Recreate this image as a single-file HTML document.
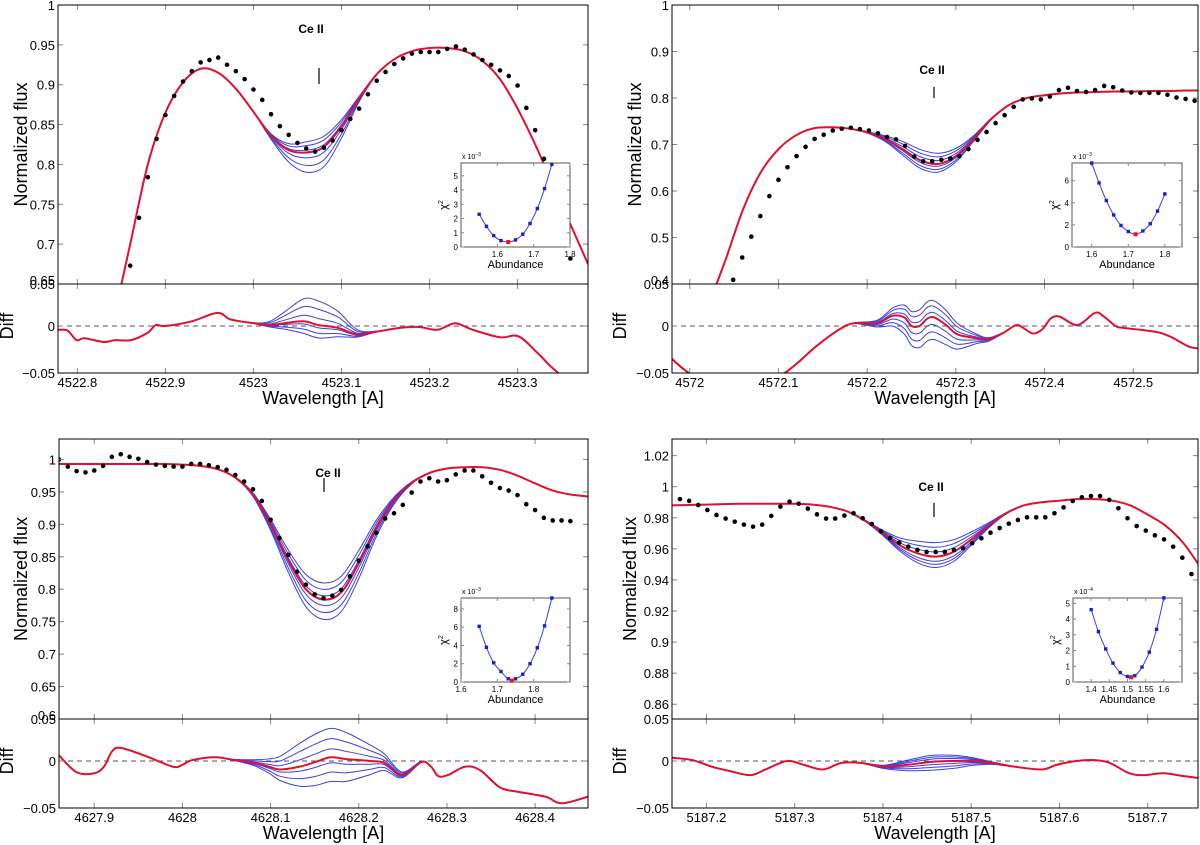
<!DOCTYPE html>
<html><head><meta charset="utf-8"><title>Ce II line fits</title>
<style>
html,body{margin:0;padding:0;background:#fff;}
svg{display:block;font-family:"Liberation Sans",Arial,sans-serif;}
</style></head>
<body>
<svg id="fig" width="1200" height="845" viewBox="0 0 1200 845"></svg>
<script>
// ---------- shared ----------
const blueOffsetsTL=[0.014,0.009,0.003,-0.007,-0.017,-0.026];
const blueOffsetsTR=[0.024,0.016,0.008,-0.005,-0.012,-0.018];
const blueOffsetsBL=[0.026,0.016,0.006,-0.009,-0.020,-0.031];
const blueOffsetsBR=[0.009,0.006,0.003,-0.003,-0.005,-0.007];
const lineProfile=[0,0.03,0.1,0.25,0.5,0.78,0.95,1,0.95,0.78,0.5,0.25,0.1,0.03,0];

// ---------- top-left 4523 ----------
const tlModel=[0.600,0.700,0.800,0.865,0.903,0.920,0.915,0.895,0.866,0.836,0.818,0.815,0.822,0.848,0.883,0.913,0.932,0.942,0.946,0.946,0.942,0.930,0.907,0.870,0.825,0.775,0.725,0.675];
const tlDots=[0.673,0.733,0.784,0.832,0.862,0.886,0.904,0.917,0.928,0.931,0.934,0.925,0.917,0.907,0.894,0.881,0.863,0.848,0.837,0.827,0.820,0.816,0.821,0.830,0.843,0.857,0.870,0.888,0.905,0.916,0.926,0.933,0.939,0.941,0.941,0.941,0.945,0.948,0.944,0.938,0.931,0.925,0.918,0.911,0.899,0.871,0.843,0.807,0.770,0.725,0.682];
const tlDiffWl=[4522.778,4522.789,4522.799,4522.808,4522.830,4522.843,4522.861,4522.880,4522.889,4522.900,4522.930,4522.959,4522.974,4523.000,4523.018,4523.035,4523.057,4523.074,4523.096,4523.118,4523.140,4523.166,4523.188,4523.209,4523.229,4523.249,4523.280,4523.301,4523.323,4523.345,4523.380];
const tlDiff=[-0.004,-0.005,-0.015,-0.013,-0.017,-0.015,-0.015,-0.007,0.001,0.000,0.005,0.014,0.007,0.003,0.001,0.003,0.005,0.001,-0.002,-0.009,-0.006,-0.002,-0.001,-0.004,0.003,-0.004,-0.012,-0.011,-0.029,-0.049,-0.070];
const tlXTicks=[4522.8,4522.9,4523,4523.1,4523.2,4523.3];
const tlXLabels=["4522.8","4522.9","4523","4523.1","4523.2","4523.3"];
const tlYTicks=[0.7,0.75,0.8,0.85,0.9,0.95,1];
const tlYLabels=["0.7","0.75","0.8","0.85","0.9","0.95","1"];
const tlChiX=[1.55,1.57,1.59,1.61,1.63,1.65,1.67,1.69,1.71,1.73,1.75];
const tlChiY=[2.3,1.45,0.8,0.45,0.35,0.5,0.9,1.65,2.7,4.1,5.8];
const tlChiBest=[1.63,0.35];
const tlInXTicks=[1.6,1.7,1.8];
const tlInYTicks=[0,1,2,3,4,5];

// ---------- top-right 4572 ----------
const trModel=[0.350,0.450,0.560,0.640,0.690,0.720,0.735,0.737,0.734,0.726,0.712,0.690,0.666,0.658,0.675,0.712,0.755,0.785,0.800,0.806,0.810,0.812,0.813,0.814,0.814,0.815,0.815,0.816,0.816];
const trDots=[0.409,0.457,0.502,0.546,0.589,0.624,0.651,0.675,0.695,0.712,0.721,0.730,0.734,0.736,0.733,0.730,0.724,0.716,0.711,0.697,0.674,0.664,0.664,0.667,0.670,0.675,0.690,0.710,0.727,0.746,0.763,0.781,0.797,0.799,0.797,0.803,0.817,0.822,0.815,0.813,0.817,0.826,0.823,0.816,0.812,0.811,0.811,0.811,0.807,0.801,0.798,0.794];
const trDiffWl=[4571.980,4571.999,4572.050,4572.107,4572.142,4572.168,4572.185,4572.211,4572.229,4572.242,4572.250,4572.259,4572.268,4572.276,4572.289,4572.302,4572.324,4572.337,4572.354,4572.368,4572.376,4572.387,4572.398,4572.407,4572.417,4572.437,4572.457,4572.467,4572.480,4572.489,4572.524,4572.541,4572.563,4572.576];
const trDiff=[-0.035,-0.050,-0.080,-0.050,-0.022,-0.004,0.003,0.003,0.011,0.009,0.000,0.000,0.008,0.009,0.001,-0.009,-0.013,-0.014,-0.007,0.001,-0.002,-0.008,-0.003,0.008,0.010,0.001,0.014,0.010,0.000,-0.002,-0.006,-0.011,-0.022,-0.024];
const trXTicks=[4572,4572.1,4572.2,4572.3,4572.4,4572.5];
const trXLabels=["4572","4572.1","4572.2","4572.3","4572.4","4572.5"];
const trYTicks=[0.5,0.6,0.7,0.8,0.9,1];
const trYLabels=["0.5","0.6","0.7","0.8","0.9","1"];
const trChiX=[1.60,1.62,1.64,1.66,1.68,1.70,1.72,1.74,1.76,1.78,1.80];
const trChiY=[7.6,5.8,4.2,2.9,1.95,1.4,1.15,1.45,2.1,3.25,4.8];
const trChiBest=[1.72,1.15];
const trInXTicks=[1.6,1.7,1.8];
const trInYTicks=[0,2,4,6];

// ---------- bottom-left 4628 ----------
const blModel=[0.993,0.993,0.993,0.993,0.993,0.993,0.993,0.992,0.990,0.985,0.972,0.946,0.900,0.845,0.800,0.784,0.795,0.840,0.895,0.937,0.964,0.979,0.986,0.988,0.988,0.984,0.975,0.963,0.952,0.946,0.943];
const blDots=[1.000,0.989,0.982,0.980,0.983,0.990,1.004,1.008,1.004,1.001,0.996,0.992,0.990,0.989,0.989,0.993,0.993,0.991,0.988,0.984,0.976,0.966,0.954,0.936,0.907,0.879,0.853,0.827,0.807,0.792,0.786,0.790,0.799,0.820,0.844,0.866,0.887,0.909,0.917,0.930,0.949,0.966,0.971,0.966,0.968,0.977,0.983,0.983,0.974,0.964,0.956,0.952,0.945,0.931,0.922,0.910,0.906,0.906,0.905];
const blDiffWl=[4627.860,4627.880,4627.900,4627.911,4627.920,4627.930,4627.959,4627.989,4628.000,4628.011,4628.037,4628.059,4628.081,4628.098,4628.111,4628.133,4628.151,4628.168,4628.186,4628.212,4628.229,4628.249,4628.271,4628.282,4628.290,4628.301,4628.321,4628.338,4628.360,4628.382,4628.412,4628.430,4628.460];
const blDiff=[0.006,-0.012,-0.013,-0.006,0.010,0.014,0.005,-0.006,-0.004,0.001,0.004,0.001,-0.002,-0.006,-0.009,-0.006,-0.001,0.004,0.002,0.000,-0.002,-0.015,-0.001,-0.006,-0.016,-0.015,-0.006,-0.010,-0.028,-0.033,-0.038,-0.045,-0.038];
const blXTicks=[4627.9,4628,4628.1,4628.2,4628.3,4628.4];
const blXLabels=["4627.9","4628","4628.1","4628.2","4628.3","4628.4"];
const blYTicks=[0.65,0.7,0.75,0.8,0.85,0.9,0.95,1];
const blYLabels=["0.65","0.7","0.75","0.8","0.85","0.9","0.95","1"];
const blChiX=[1.65,1.67,1.69,1.71,1.73,1.75,1.77,1.79,1.81,1.83,1.85];
const blChiY=[6.1,3.8,2.1,1.15,0.35,0.35,0.85,2.0,3.75,6.15,9.2];
const blChiBest=[1.74,0.15];
const blInXTicks=[1.6,1.7,1.8];
const blInYTicks=[0,2,4,6,8];

// ---------- bottom-right 5187 ----------
const brModel=[0.988,0.9882,0.9885,0.9888,0.989,0.989,0.989,0.989,0.9885,0.987,0.984,0.978,0.970,0.962,0.957,0.955,0.958,0.966,0.975,0.983,0.988,0.990,0.991,0.992,0.992,0.991,0.988,0.982,0.975,0.964,0.948];
const brDots=[0.992,0.9909,0.9882,0.985,0.9818,0.9795,0.9775,0.9756,0.9743,0.9756,0.9812,0.9872,0.9904,0.9891,0.9859,0.9822,0.9795,0.9795,0.9814,0.9829,0.9797,0.976,0.9713,0.967,0.964,0.9614,0.9593,0.958,0.958,0.958,0.9593,0.9604,0.9636,0.9668,0.9704,0.9734,0.9762,0.9786,0.9803,0.9803,0.9803,0.9829,0.9867,0.9908,0.9932,0.994,0.994,0.9915,0.9861,0.9797,0.9747,0.9717,0.9687,0.9661,0.9614,0.9543,0.9438,0.9314];
const brDiffWl=[5187.161,5187.184,5187.206,5187.228,5187.250,5187.267,5187.291,5187.310,5187.332,5187.353,5187.375,5187.401,5187.428,5187.454,5187.480,5187.501,5187.523,5187.549,5187.580,5187.597,5187.619,5187.640,5187.657,5187.679,5187.696,5187.718,5187.740,5187.757];
const brDiff=[0.0035,0.001,-0.006,-0.011,-0.015,-0.009,0.000,-0.004,-0.009,-0.002,-0.002,-0.006,-0.004,-0.001,0.000,0.000,-0.002,-0.006,-0.009,-0.004,0.000,0.001,-0.002,-0.013,-0.015,-0.013,-0.016,-0.018];
const brXTicks=[5187.2,5187.3,5187.4,5187.5,5187.6,5187.7];
const brXLabels=["5187.2","5187.3","5187.4","5187.5","5187.6","5187.7"];
const brYTicks=[0.86,0.88,0.9,0.92,0.94,0.96,0.98,1,1.02];
const brYLabels=["0.86","0.88","0.9","0.92","0.94","0.96","0.98","1","1.02"];
const brChiX=[1.40,1.42,1.44,1.46,1.48,1.50,1.52,1.54,1.56,1.58,1.60];
const brChiY=[4.6,3.2,2.1,1.2,0.6,0.35,0.4,0.95,1.9,3.35,5.35];
const brChiBest=[1.51,0.3];
const brInXTicks=[1.4,1.45,1.5,1.55,1.6];
const brInXLabels=["1.4","1.45","1.5","1.55","1.6"];
const brInYTicks=[0,1,2,3,4,5];

const diffTicks=[-0.05,0,0.05];

const NS='http://www.w3.org/2000/svg';
const svg=document.getElementById('fig');
function mk(tag,attrs,parent){const e=document.createElementNS(NS,tag);for(const k in attrs)e.setAttribute(k,attrs[k]);parent.appendChild(e);return e;}
function lin(d0,d1,r0,r1){return v=>r0+(v-d0)*(r1-r0)/(d1-d0);}
function smoothPath(p){
  if(p.length<2)return '';
  let d='M'+p[0][0].toFixed(2)+','+p[0][1].toFixed(2);
  for(let i=0;i<p.length-1;i++){
    const p0=p[i>0?i-1:i],p1=p[i],p2=p[i+1],p3=p[i+2<p.length?i+2:i+1];
    const c1x=p1[0]+(p2[0]-p0[0])/6,c1y=p1[1]+(p2[1]-p0[1])/6;
    const c2x=p2[0]-(p3[0]-p1[0])/6,c2y=p2[1]-(p3[1]-p1[1])/6;
    d+=' C'+c1x.toFixed(2)+','+c1y.toFixed(2)+' '+c2x.toFixed(2)+','+c2y.toFixed(2)+' '+p2[0].toFixed(2)+','+p2[1].toFixed(2);
  }
  return d;
}
let clipN=0;
const RED='#e0102e',BLUE='#3b3fe6';

function drawPanel(P){
  const g=mk('g',{},svg);
  
  
  const sx=lin(P.xmin,P.xmax,P.left,P.right);
  const sy=lin(P.ymin,P.ymax,P.divY,P.top);
  const sd=lin(-0.05,0.0447,P.bottom,P.divY);
  const defs=mk('defs',{},g);
  const cm='c'+(clipN++),cd='c'+(clipN++);
  const c1=mk('clipPath',{id:cm},defs);mk('rect',{x:P.left,y:P.top,width:P.right-P.left,height:P.divY-P.top},c1);
  const c2=mk('clipPath',{id:cd},defs);mk('rect',{x:P.left,y:P.divY,width:P.right-P.left,height:P.bottom-P.divY},c2);
  const prof=w=>{const t=(w-P.center)/P.profStep+(lineProfile.length-1)/2;if(t<0||t>lineProfile.length-1)return 0;const i=Math.floor(t),f=t-i;return lineProfile[i]*(1-f)+(lineProfile[Math.min(i+1,lineProfile.length-1)])*f;};
  const gm=mk('g',{'clip-path':'url(#'+cm+')'},g);
  
  
  const mwl=P.model.map((v,i)=>P.modelStart+i*0.02);
  P.offsets.forEach((o,k)=>{
    const pts=P.model.map((v,i)=>[sx(mwl[i]),sy(v+o*prof(mwl[i]))]);
    const pa=mk('path',{d:smoothPath(pts),fill:'none',stroke:BLUE,'stroke-width':1},gm);
    
    
  });
  const rp=mk('path',{d:smoothPath(P.model.map((v,i)=>[sx(mwl[i]),sy(v)])),fill:'none',stroke:RED,'stroke-width':2},gm);
  
  
  P.dots.forEach((v,i)=>{
    const c=mk('circle',{cx:sx(P.dotStart+i*P.dotStep),cy:sy(v),r:2.3,fill:'#000'},gm);
    
    
  });
  const gd=mk('g',{'clip-path':'url(#'+cd+')'},g);
  
  
  const zl=mk('line',{x1:P.left,x2:P.right,y1:sd(0),y2:sd(0),stroke:'#555','stroke-width':1,'stroke-dasharray':'5,4'},gd);
  
  
  P.offsets.forEach((o,k)=>{
    const pts=P.diff.map((v,i)=>[sx(P.diffWl[i]),sd(v-o*prof(P.diffWl[i]))]);
    const pa=mk('path',{d:smoothPath(pts),fill:'none',stroke:BLUE,'stroke-width':1},gd);
    
    
  });
  const rd=mk('path',{d:smoothPath(P.diff.map((v,i)=>[sx(P.diffWl[i]),sd(v)])),fill:'none',stroke:RED,'stroke-width':2},gd);
  
  
  const tk=mk('g',{stroke:'#888','stroke-width':1},g);
  
  
  P.xticks.forEach(t=>{const x=sx(t);
    [[P.top,5],[P.divY,-5],[P.divY,5],[P.bottom,-5]].forEach(a=>mk('line',{x1:x,x2:x,y1:a[0],y2:a[0]+a[1]},tk));});
  P.yticks.forEach(t=>{const y=sy(t);
    mk('line',{x1:P.left,x2:P.left+5,y1:y,y2:y},tk);mk('line',{x1:P.right,x2:P.right-5,y1:y,y2:y},tk);});
  [0].forEach(t=>{const y=sd(t);mk('line',{x1:P.left,x2:P.left+5,y1:y,y2:y},tk);mk('line',{x1:P.right,x2:P.right-5,y1:y,y2:y},tk);});
  const f1=mk('rect',{x:P.left,y:P.top,width:P.right-P.left,height:P.divY-P.top,fill:'none',stroke:'#000','stroke-width':1},g);
  
  
  const f2=mk('rect',{x:P.left,y:P.divY,width:P.right-P.left,height:P.bottom-P.divY,fill:'none',stroke:'#000','stroke-width':1},g);
  
  
  P.xticks.forEach((t,i)=>{
    const tx=mk('text',{x:sx(t),y:P.bottom+14,'font-size':13,'text-anchor':'middle'},g);
    tx.textContent=P.xlabels[i];
    
    
  });
  P.yticks.forEach((t,i)=>{
    const tx=mk('text',{x:P.left-3,y:sy(t)+5,'font-size':13,'text-anchor':'end'},g);
    tx.textContent=P.ylabels[i];
    
    
  });
  if(P.ybottomLabel){
    const tb=mk('text',{x:P.left-3,y:P.divY+1,'font-size':13,'text-anchor':'end'},g);
    tb.textContent=P.ybottomLabel;
    
    
  }
  diffTicks.forEach(t=>{
    const tx=mk('text',{x:P.left-3,y:(t>0.04?P.divY+5:sd(t)+5),'font-size':13,'text-anchor':'end'},g);
    tx.textContent=(t<0?'\u22120.05':(t>0?'0.05':'0'));
    
    
  });
  const xt=mk('text',{x:(P.left+P.right)/2,y:P.bottom+31,'font-size':18,'text-anchor':'middle'},g);
  xt.textContent='Wavelength [A]';
  
  
  const yt=mk('text',{x:0,y:0,'font-size':18,'text-anchor':'middle',transform:'translate('+P.ytitleX+','+((P.top+P.divY)/2)+') rotate(-90)'},g);
  yt.textContent='Normalized flux';
  
  
  const dt=mk('text',{x:0,y:0,'font-size':18,'text-anchor':'middle',transform:'translate('+P.dtitleX+','+sd(0)+') rotate(-90)'},g);
  dt.textContent='Diff';
  
  
  const ce=mk('text',{x:P.ceX,y:P.ceY,'font-size':12,'font-weight':'bold','text-anchor':'middle'},g);
  ce.textContent='Ce II';
  
  
  const cm2=mk('line',{x1:P.tickX,x2:P.tickX,y1:P.tickY1,y2:P.tickY2,stroke:'#000','stroke-width':1.2},g);
  
  
  const I=P.inset;
  const gi=mk('g',{},g);
  
  
  const ix=lin(I.xmin,I.xmax,I.x0,I.x1),iy=lin(0,I.ymax,I.y1,I.y0);
  mk('rect',{x:I.x0,y:I.y0,width:I.x1-I.x0,height:I.y1-I.y0,fill:'#fff',stroke:'#555','stroke-width':1},gi);
  I.xticks.forEach((t,i)=>{const x=ix(t);
    mk('line',{x1:x,x2:x,y1:I.y1,y2:I.y1-3,stroke:'#888'},gi);mk('line',{x1:x,x2:x,y1:I.y0,y2:I.y0+3,stroke:'#888'},gi);
    const tx=mk('text',{x:x,y:I.y1+10,'font-size':8,'text-anchor':'middle'},gi);
    tx.textContent=I.xlabels?I.xlabels[i]:String(t);
    
    
  });
  I.yticks.forEach(t=>{const y=iy(t);
    mk('line',{x1:I.x0,x2:I.x0+3,y1:y,y2:y,stroke:'#888'},gi);mk('line',{x1:I.x1,x2:I.x1-3,y1:y,y2:y,stroke:'#888'},gi);
    const tx=mk('text',{x:I.x0-3,y:y+3,'font-size':8,'text-anchor':'end'},gi);
    tx.textContent=String(t);
    
    
  });
  const ex=mk('text',{x:I.x0+1,y:I.y0-4,'font-size':7},gi);
  ex.innerHTML='x 10<tspan dy="-3" font-size="5">\u2212'+I.exp+'</tspan>';
  
  
  const ab=mk('text',{x:(I.x0+I.x1)/2,y:I.y1+21,'font-size':11,'text-anchor':'middle'},gi);
  ab.textContent='Abundance';
  
  
  const ch=mk('text',{x:0,y:0,'font-size':11,'text-anchor':'middle',transform:'translate('+(I.x0-14)+','+((I.y0+I.y1)/2)+') rotate(-90)'},gi);
  ch.innerHTML='\u03c7<tspan dy="-4" font-size="7">2</tspan>';
  
  
  const icp='c'+(clipN++);
  const c3=mk('clipPath',{id:icp},defs);mk('rect',{x:I.x0,y:I.y0-3,width:I.x1-I.x0+3,height:I.y1-I.y0+3},c3);
  const cl=mk('path',{d:smoothPath(I.cx.map((v,i)=>[ix(v),iy(I.cy[i])])),fill:'none',stroke:BLUE,'stroke-width':1,'clip-path':'url(#'+icp+')'},gi);
  
  
  I.cx.forEach((v,i)=>{
    const m=mk('rect',{x:ix(v)-1.7,y:iy(I.cy[i])-1.7,width:3.4,height:3.4,fill:'#1520d0'},gi);
    
    
  });
  const b=mk('rect',{x:ix(I.best[0])-2,y:iy(I.best[1])-2,width:4,height:4,fill:'#f01010'},gi);
  
  
}

drawPanel({name:'panel-4523',left:58,right:588,top:5,divY:284,bottom:373,xmin:4522.778,xmax:4523.380,ymin:0.65,ymax:1,
  model:tlModel,modelStart:4522.84,dots:tlDots,dotStart:4522.86,dotStep:0.01,diff:tlDiff,diffWl:tlDiffWl,offsets:blueOffsetsTL,center:4523.07,profStep:0.011,
  xticks:tlXTicks,xlabels:tlXLabels,yticks:tlYTicks,ylabels:tlYLabels,ybottomLabel:'0.65',ytitleX:27,dtitleX:13,
  ceX:311,ceY:33,tickX:319,tickY1:68,tickY2:84,
  inset:{x0:461,x1:570,y0:163,y1:247,xmin:1.5,xmax:1.8,ymax:5.9,xticks:tlInXTicks,yticks:tlInYTicks,cx:tlChiX,cy:tlChiY,best:tlChiBest,exp:3}});
drawPanel({name:'panel-4572',left:672,right:1198,top:5,divY:284,bottom:373,xmin:4571.980,xmax:4572.573,ymin:0.4,ymax:1,
  model:trModel,modelStart:4572.02,dots:trDots,dotStart:4572.049,dotStep:0.0102,diff:trDiff,diffWl:trDiffWl,offsets:blueOffsetsTR,center:4572.27,profStep:0.013,
  xticks:trXTicks,xlabels:trXLabels,yticks:trYTicks,ylabels:trYLabels,ybottomLabel:'0.4',ytitleX:641,dtitleX:626,
  ceX:932,ceY:74,tickX:934,tickY1:87,tickY2:98,
  inset:{x0:1072,x1:1182,y0:163,y1:247,xmin:1.546,xmax:1.847,ymax:7.6,xticks:trInXTicks,yticks:trInYTicks,cx:trChiX,cy:trChiY,best:trChiBest,exp:3}});
drawPanel({name:'panel-4628',left:59,right:588,top:439,divY:719,bottom:808,xmin:4627.860,xmax:4628.460,ymin:0.6,ymax:1.0315,
  model:blModel,modelStart:4627.86,dots:blDots,dotStart:4627.86,dotStep:0.01,diff:blDiff,diffWl:blDiffWl,offsets:blueOffsetsBL,center:4628.165,profStep:0.017,
  xticks:blXTicks,xlabels:blXLabels,yticks:blYTicks,ylabels:blYLabels,ybottomLabel:'0.6',ytitleX:27,dtitleX:13,
  ceX:328,ceY:477,tickX:324,tickY1:478,tickY2:492,
  inset:{x0:461,x1:570,y0:598,y1:682,xmin:1.6,xmax:1.9,ymax:9.2,xticks:blInXTicks,yticks:blInYTicks,cx:blChiX,cy:blChiY,best:blChiBest,exp:3}});
drawPanel({name:'panel-5187',left:672,right:1198,top:439,divY:719,bottom:808,xmin:5187.161,xmax:5187.757,ymin:0.8505,ymax:1.0307,
  model:brModel,modelStart:5187.16,dots:brDots,dotStart:5187.170,dotStep:0.01035,diff:brDiff,diffWl:brDiffWl,offsets:blueOffsetsBR,center:5187.46,profStep:0.014,
  xticks:brXTicks,xlabels:brXLabels,yticks:brYTicks,ylabels:brYLabels,ybottomLabel:'',ytitleX:636,dtitleX:626,
  ceX:931,ceY:491,tickX:934,tickY1:503,tickY2:517,
  inset:{x0:1073,x1:1182,y0:598,y1:682,xmin:1.35,xmax:1.65,ymax:5.34,xticks:brInXTicks,xlabels:brInXLabels,yticks:brInYTicks,cx:brChiX,cy:brChiY,best:brChiBest,exp:4}});
</script>
</body></html>
